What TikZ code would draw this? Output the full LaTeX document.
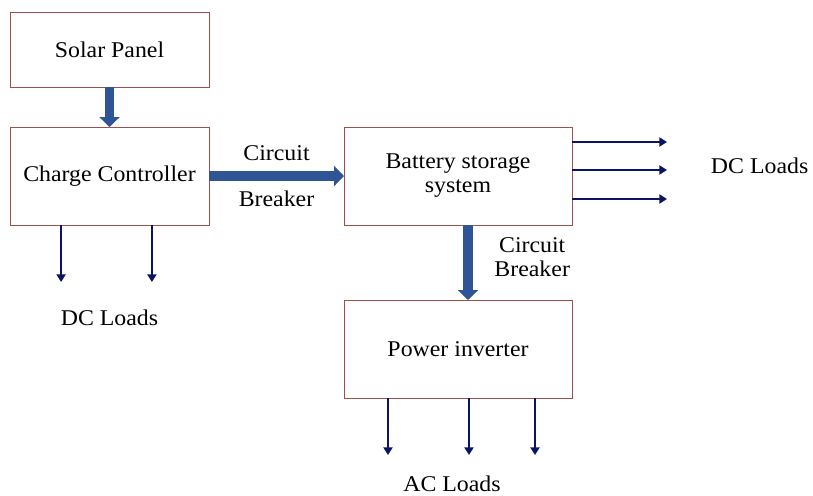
\documentclass[tikz,border=0pt]{standalone}
\usepackage{fontspec}
\setmainfont{Liberation Serif}[FakeStretch=1.06]
\usepackage{xcolor}
\usepackage{tikz}
\usetikzlibrary{arrows.meta, positioning}
\definecolor{boxred}{RGB}{160,80,72}
\definecolor{flowblue}{RGB}{47,85,151}
\definecolor{loadnavy}{RGB}{10,20,100}

\begin{document}
\begin{tikzpicture}[font=\fontsize{16}{17}\selectfont,
			panel/.style={draw=boxred, rectangle, minimum width=4.975cm, minimum height=1.875cm, inner sep=0pt, outer sep=0pt},
			unit/.style={draw=boxred, rectangle, minimum width=4.975cm, minimum height=2.45cm, inner sep=0pt, outer sep=0pt, align=center},
			wideunit/.style={unit, minimum width=5.7cm},
			power/.style={line width=7pt, flowblue, text=black, -{Triangle[width=14pt,length=7pt]}},
			load/.style={line width=1.4pt, loadnavy, -{Triangle[width=6.5pt,length=5.5pt]}}
			]
			\useasboundingbox (0,0) rectangle (20.325,-12.375);
			
			\node [panel](solar) at (2.7375,-1.2375) {Solar Panel};
			\node [unit](controller) [below=1cm of solar] {Charge Controller};
			
			\node [wideunit](battery) [right=3.375cm of controller] {Battery storage\\system};
			\node [wideunit](inverter) [below=1.875cm of battery] {Power inverter};
			
			\node (dcleft) [below=2cm of controller] {DC Loads};
			\node (dcright) [right=3.35cm of battery, yshift=0.25cm] {DC Loads};
			\node (acloads) [below=1.825cm of inverter, xshift=-0.15cm] {AC Loads};
			
			
			\draw[power] (solar) -- (controller);
			
			\draw[power] (controller) -- (battery) node[midway, above=4pt] {Circuit} node[midway, below=4pt] {Breaker};
			
			\draw[power] ([xshift=0.25cm]battery.south) -- ([xshift=0.25cm]inverter.north) node[midway, right=12pt, yshift=0.14cm, align=center] {Circuit\\Breaker};
			
			\draw[load] ([xshift=-1.21cm]controller.south) -- ++(0,-1.425);
			\draw[load] ([xshift=1.06cm]controller.south) -- ++(0,-1.425);
			
			\draw[load] ([yshift=0.85cm]battery.east) -- ++(2.375,0);
			\draw[load] ([yshift=0.15cm]battery.east) -- ++(2.375,0);
			\draw[load] ([yshift=-0.575cm]battery.east) -- ++(2.375,0);
			
			\draw[load] ([xshift=-1.75cm]inverter.south) -- ++(0,-1.425);
			\draw[load] ([xshift=0.275cm]inverter.south) -- ++(0,-1.425);
			\draw[load] ([xshift=1.925cm]inverter.south) -- ++(0,-1.425);
			
		\end{tikzpicture}
\end{document}
